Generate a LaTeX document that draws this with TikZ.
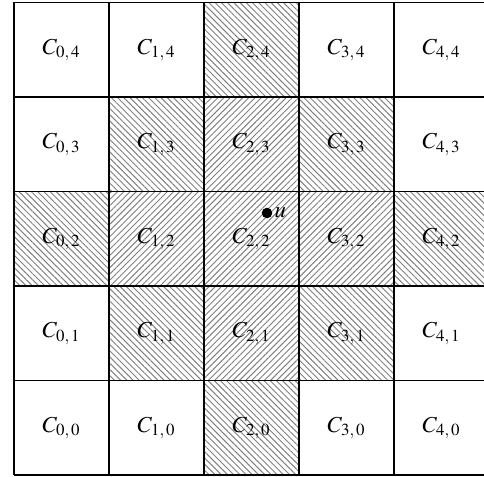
\documentclass[tikz,border=0pt]{standalone}
\usepackage{amsmath,amssymb}
\usepackage{mathptmx}
\usepackage{tikz}
\usepackage{xcolor}
\usetikzlibrary{patterns.meta}

\begin{document}
\begin{tikzpicture}[x=0.02cm,y=0.02cm,font=\fontsize{13}{15}\selectfont,
  hatchne/.style={pattern={Lines[angle=45,distance=2.5pt,line width=0.55pt]},pattern color=gray},
  hatchnw/.style={pattern={Lines[angle=-45,distance=2.5pt,line width=0.55pt]},pattern color=gray}]
\useasboundingbox (0,0) rectangle (484,477);
\clip (0,0) rectangle (484,477);
% hatched cells
\foreach \i/\j in {2/3,1/2,2/2,3/2,2/1} {\fill[hatchne] (14+95*\i,2+94.5*\j) rectangle ++(95,94.5);}
\foreach \i/\j in {2/4,1/3,3/3,0/2,4/2,1/1,3/1,2/0} {\fill[hatchnw] (14+95*\i,2+94.5*\j) rectangle ++(95,94.5);}
% grid
\foreach \i in {0,...,5} {\draw[line width=1pt] (14+95*\i,2)--(14+95*\i,474.5);\draw[line width=1pt] (14,2+94.5*\i)--(489,2+94.5*\i);}
% labels
\foreach \i in {0,...,4} {\foreach \j in {0,...,4} {\node (c-\i-\j) at (61.5+95*\i,49.25+94.5*\j) {$C_{\i,\,\j}$};}}
\node[circle,fill,inner sep=0pt,minimum size=6pt] (pt) at (267,264) {};
\node[right,inner sep=1pt] (lab-u) at (pt.east) {$u$};
\end{tikzpicture}
\end{document}
